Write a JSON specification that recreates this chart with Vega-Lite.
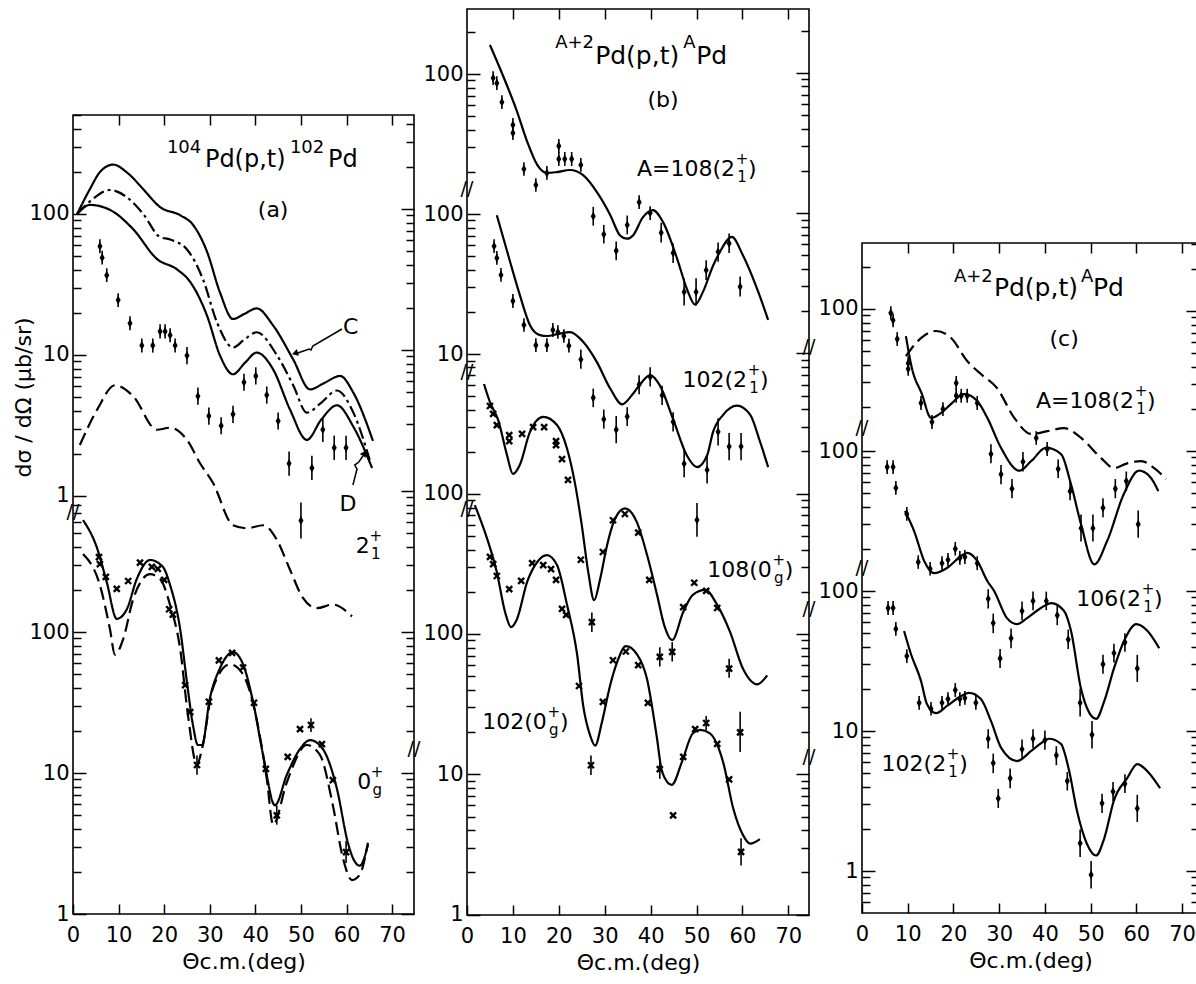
{
"$schema":"https://vega.github.io/schema/vega-lite/v6.json",
"background":"white",
"padding":{"left":11,"top":7,"right":0,"bottom":0},
"spacing":0,
"datasets":{
"a_up_lines":[
{"x":0.9,"y":100,"c":"C","s":"solid"},{"x":3.7,"y":150,"c":"C","s":"solid"},{"x":6,"y":200,"c":"C","s":"solid"},{"x":8.8,"y":224,"c":"C","s":"solid"},{"x":12,"y":195,"c":"C","s":"solid"},{"x":15.4,"y":150,"c":"C","s":"solid"},{"x":19.1,"y":112,"c":"C","s":"solid"},{"x":23.5,"y":98,"c":"C","s":"solid"},{"x":26.3,"y":84,"c":"C","s":"solid"},{"x":29.4,"y":54,"c":"C","s":"solid"},{"x":32.2,"y":28,"c":"C","s":"solid"},{"x":35.1,"y":18,"c":"C","s":"solid"},{"x":37.5,"y":19.5,"c":"C","s":"solid"},{"x":40.3,"y":21.4,"c":"C","s":"solid"},{"x":43.9,"y":16.2,"c":"C","s":"solid"},{"x":48.3,"y":9.3,"c":"C","s":"solid"},{"x":52,"y":5.7,"c":"C","s":"solid"},{"x":55,"y":6.3,"c":"C","s":"solid"},{"x":58.6,"y":7.1,"c":"C","s":"solid"},{"x":61.5,"y":5.4,"c":"C","s":"solid"},{"x":65.8,"y":2.46,"c":"C","s":"solid"},
{"x":0.9,"y":100,"c":"B","s":"dashdot"},{"x":4,"y":125,"c":"B","s":"dashdot"},{"x":8.1,"y":148,"c":"B","s":"dashdot"},{"x":12,"y":130,"c":"B","s":"dashdot"},{"x":15.4,"y":100,"c":"B","s":"dashdot"},{"x":19.1,"y":68.6,"c":"B","s":"dashdot"},{"x":21.3,"y":66,"c":"B","s":"dashdot"},{"x":25,"y":56,"c":"B","s":"dashdot"},{"x":28.5,"y":34.5,"c":"B","s":"dashdot"},{"x":31.6,"y":17,"c":"B","s":"dashdot"},{"x":35.1,"y":11.3,"c":"B","s":"dashdot"},{"x":37.5,"y":12.8,"c":"B","s":"dashdot"},{"x":40.3,"y":14.5,"c":"B","s":"dashdot"},{"x":44.7,"y":10,"c":"B","s":"dashdot"},{"x":48.3,"y":6.1,"c":"B","s":"dashdot"},{"x":51.3,"y":3.9,"c":"B","s":"dashdot"},{"x":54.5,"y":4.6,"c":"B","s":"dashdot"},{"x":57.9,"y":5.6,"c":"B","s":"dashdot"},{"x":61.5,"y":3.9,"c":"B","s":"dashdot"},{"x":65.1,"y":1.8,"c":"B","s":"dashdot"},
{"x":0.9,"y":100,"c":"D","s":"solid"},{"x":3.7,"y":116,"c":"D","s":"solid"},{"x":8.1,"y":107,"c":"D","s":"solid"},{"x":13.2,"y":78,"c":"D","s":"solid"},{"x":18.4,"y":48,"c":"D","s":"solid"},{"x":22.8,"y":40.5,"c":"D","s":"solid"},{"x":25.7,"y":33,"c":"D","s":"solid"},{"x":29.4,"y":19,"c":"D","s":"solid"},{"x":32.2,"y":10,"c":"D","s":"solid"},{"x":35.1,"y":7.3,"c":"D","s":"solid"},{"x":37.7,"y":8.8,"c":"D","s":"solid"},{"x":40.3,"y":10.4,"c":"D","s":"solid"},{"x":43.9,"y":7.9,"c":"D","s":"solid"},{"x":47.6,"y":4.1,"c":"D","s":"solid"},{"x":51.3,"y":2.5,"c":"D","s":"solid"},{"x":54.5,"y":3.5,"c":"D","s":"solid"},{"x":57.9,"y":4.4,"c":"D","s":"solid"},{"x":61.5,"y":3.1,"c":"D","s":"solid"},{"x":65.6,"y":1.58,"c":"D","s":"solid"},
{"x":1.5,"y":2.3,"c":"E","s":"dash"},{"x":5.3,"y":4.1,"c":"E","s":"dash"},{"x":9.2,"y":6.1,"c":"E","s":"dash"},{"x":13.2,"y":5.1,"c":"E","s":"dash"},{"x":18.4,"y":2.95,"c":"E","s":"dash"},{"x":21.3,"y":3.05,"c":"E","s":"dash"},{"x":25,"y":2.5,"c":"E","s":"dash"},{"x":27.9,"y":1.7,"c":"E","s":"dash"},{"x":30.7,"y":1.24,"c":"E","s":"dash"},{"x":35.1,"y":0.62,"c":"E","s":"dash"},{"x":38.2,"y":0.59,"c":"E","s":"dash"},{"x":41.7,"y":0.62,"c":"E","s":"dash"},{"x":44.7,"y":0.49,"c":"E","s":"dash"},{"x":47.6,"y":0.3,"c":"E","s":"dash"},{"x":50.4,"y":0.19,"c":"E","s":"dash"},{"x":53.5,"y":0.16,"c":"E","s":"dash"},{"x":57,"y":0.17,"c":"E","s":"dash"},{"x":61.2,"y":0.14,"c":"E","s":"dash"}
],
"a_up_pts":[
{"x":5.9,"y":59,"lo":52.7,"hi":66.1},{"x":6.4,"y":49,"lo":43.8,"hi":54.9},{"x":7.4,"y":36.8,"lo":32.9,"hi":41.2},{"x":9.9,"y":24.5,"lo":21.9,"hi":27.4},{"x":12.5,"y":16.8,"lo":15,"hi":18.8},{"x":15.1,"y":11.7,"lo":10.4,"hi":13.1},{"x":17.5,"y":11.7,"lo":10.4,"hi":13.1},{"x":19.1,"y":14.7,"lo":13.1,"hi":16.5},{"x":20.2,"y":14.7,"lo":13.1,"hi":16.5},{"x":21.3,"y":13.8,"lo":12.3,"hi":15.5},{"x":22.4,"y":11.7,"lo":10.4,"hi":13.1},{"x":25,"y":9.9,"lo":8.6,"hi":11.4},{"x":27.4,"y":5.1,"lo":4.43,"hi":5.87},{"x":29.8,"y":3.7,"lo":3.2,"hi":4.25},{"x":32.5,"y":3.15,"lo":2.74,"hi":3.62},{"x":35.1,"y":3.8,"lo":3.3,"hi":4.37},{"x":37.5,"y":6.4,"lo":5.57,"hi":7.36},{"x":40.1,"y":7.1,"lo":6.17,"hi":8.17},{"x":42.5,"y":5.2,"lo":4.52,"hi":5.98},{"x":45,"y":3.4,"lo":2.96,"hi":3.91},{"x":47.4,"y":1.7,"lo":1.39,"hi":2.07},{"x":50,"y":0.67,"lo":0.5,"hi":0.9},{"x":52.4,"y":1.58,"lo":1.3,"hi":1.93},{"x":54.8,"y":2.95,"lo":2.42,"hi":3.6},{"x":57.3,"y":2.2,"lo":1.8,"hi":2.68},{"x":59.9,"y":2.2,"lo":1.8,"hi":2.68}
],
"a_lo_lines":[
{"x":2.2,"y":622,"c":"F","s":"solid"},{"x":5.2,"y":400,"c":"F","s":"solid"},{"x":7.4,"y":226,"c":"F","s":"solid"},{"x":9.6,"y":124,"c":"F","s":"solid"},{"x":11.8,"y":145,"c":"F","s":"solid"},{"x":14,"y":238,"c":"F","s":"solid"},{"x":16.9,"y":324,"c":"F","s":"solid"},{"x":19.7,"y":290,"c":"F","s":"solid"},{"x":21.3,"y":215,"c":"F","s":"solid"},{"x":23.5,"y":105,"c":"F","s":"solid"},{"x":25,"y":44,"c":"F","s":"solid"},{"x":26.3,"y":22,"c":"F","s":"solid"},{"x":27.4,"y":15.8,"c":"F","s":"solid"},{"x":28.3,"y":15.8,"c":"F","s":"solid"},{"x":30,"y":33.5,"c":"F","s":"solid"},{"x":32.2,"y":55,"c":"F","s":"solid"},{"x":35.1,"y":72,"c":"F","s":"solid"},{"x":37.3,"y":59,"c":"F","s":"solid"},{"x":39.5,"y":32,"c":"F","s":"solid"},{"x":41.7,"y":13.4,"c":"F","s":"solid"},{"x":44.3,"y":5.9,"c":"F","s":"solid"},{"x":46.9,"y":9.7,"c":"F","s":"solid"},{"x":49.8,"y":14.8,"c":"F","s":"solid"},{"x":52,"y":17.1,"c":"F","s":"solid"},{"x":54.8,"y":14.8,"c":"F","s":"solid"},{"x":57.9,"y":7.7,"c":"F","s":"solid"},{"x":60.3,"y":3.2,"c":"F","s":"solid"},{"x":61.4,"y":2.5,"c":"F","s":"solid"},{"x":62.9,"y":2.2,"c":"F","s":"solid"},{"x":64.7,"y":3.1,"c":"F","s":"solid"},
{"x":2.2,"y":357,"c":"G","s":"dash"},{"x":5.9,"y":215,"c":"G","s":"dash"},{"x":8.1,"y":105,"c":"G","s":"dash"},{"x":9.2,"y":69,"c":"G","s":"dash"},{"x":11,"y":89,"c":"G","s":"dash"},{"x":13.2,"y":171,"c":"G","s":"dash"},{"x":16.9,"y":257,"c":"G","s":"dash"},{"x":19.1,"y":238,"c":"G","s":"dash"},{"x":21.3,"y":155,"c":"G","s":"dash"},{"x":23.5,"y":76,"c":"G","s":"dash"},{"x":25.2,"y":26,"c":"G","s":"dash"},{"x":27.2,"y":11.4,"c":"G","s":"dash"},{"x":28.3,"y":14.8,"c":"G","s":"dash"},{"x":30.7,"y":40,"c":"G","s":"dash"},{"x":34.4,"y":59,"c":"G","s":"dash"},{"x":37.3,"y":50,"c":"G","s":"dash"},{"x":40.4,"y":23,"c":"G","s":"dash"},{"x":42.5,"y":9.1,"c":"G","s":"dash"},{"x":43.9,"y":4.3,"c":"G","s":"dash"},{"x":46.9,"y":8.6,"c":"G","s":"dash"},{"x":51.3,"y":15.8,"c":"G","s":"dash"},{"x":54.2,"y":13.4,"c":"G","s":"dash"},{"x":57,"y":5.9,"c":"G","s":"dash"},{"x":59.2,"y":2.5,"c":"G","s":"dash"},{"x":61.2,"y":1.74,"c":"G","s":"dash"},{"x":62.9,"y":1.9,"c":"G","s":"dash"},{"x":64.7,"y":3.2,"c":"G","s":"dash"}
],
"a_lo_pts":[
{"x":5.7,"y":340},{"x":5.9,"y":303},{"x":7.2,"y":246},{"x":9.6,"y":202},{"x":12.1,"y":230},{"x":14.7,"y":310},{"x":17.3,"y":290},{"x":18.6,"y":280},{"x":20,"y":234},{"x":21.1,"y":145},{"x":21.9,"y":133},{"x":24.6,"y":42},{"x":25.7,"y":27},{"x":27.2,"y":11.4,"lo":9.7,"hi":13.3},{"x":29.8,"y":32},{"x":32,"y":63},{"x":34.9,"y":71},{"x":37.3,"y":56},{"x":39.7,"y":31.5},{"x":42.3,"y":10.7},{"x":44.7,"y":5,"lo":4.3,"hi":5.85},{"x":47.1,"y":13},{"x":49.8,"y":20.5},{"x":52.2,"y":21.9,"lo":19.5,"hi":24.5},{"x":54.6,"y":16},{"x":57,"y":8.9},{"x":59.9,"y":2.75,"lo":2.3,"hi":3.3}
],
"a_simple":[{"x":43.9,"y":98400,"t":"(a)"},{"x":60.9,"y":14560,"t":"C"},{"x":60.3,"y":809,"t":"D"}],
"a_title":[{"x":20.6,"y":222700,"s1":"104","m1":"Pd(p,t)","s2":"102","m2":"Pd"}],
"a_lab":[{"x":65.1,"y":407,"pre":"2","sup":"+","sub":"1","post":""},{"x":65.4,"y":8.63,"pre":"0","sup":"+","sub":"g","post":""}],
"a_breaks":[{"x":0,"y":710},{"x":74.8,"y":14.8}],
"a_arrows":[
{"x":59,"y":14090,"c":"C","i":1},{"x":52.6,"y":10670,"c":"C","i":2},{"x":52.2,"y":10000,"c":"C","i":3},{"x":51.8,"y":10160,"c":"C","i":4},{"x":49.3,"y":9520,"c":"C","i":5},
{"x":61.4,"y":1104,"c":"D","i":1},{"x":62.3,"y":1432,"c":"D","i":2},{"x":61.8,"y":1528,"c":"D","i":3},{"x":62.7,"y":1606,"c":"D","i":4},{"x":63.6,"y":1771,"c":"D","i":5}
],
"a_heads":[{"x":48.9,"y":9520,"g":"C"},{"x":63.8,"y":1829,"g":"D"}],
"b1_lines":[
{"x":5,"y":161,"c":"S1"},{"x":7.8,"y":98,"c":"S1"},{"x":10.9,"y":54,"c":"S1"},{"x":13.1,"y":33,"c":"S1"},{"x":15.3,"y":22.5,"c":"S1"},{"x":17.4,"y":19.7,"c":"S1"},{"x":19.6,"y":20,"c":"S1"},{"x":22.4,"y":20.7,"c":"S1"},{"x":25.3,"y":19,"c":"S1"},{"x":28.3,"y":14.4,"c":"S1"},{"x":31.2,"y":9.9,"c":"S1"},{"x":33.3,"y":7.1,"c":"S1"},{"x":34.9,"y":6.7,"c":"S1"},{"x":36.2,"y":7.1,"c":"S1"},{"x":38.3,"y":9.5,"c":"S1"},{"x":40.5,"y":10.7,"c":"S1"},{"x":42.7,"y":8.8,"c":"S1"},{"x":45.8,"y":4.8,"c":"S1"},{"x":47.9,"y":2.94,"c":"S1"},{"x":49.7,"y":2.27,"c":"S1"},{"x":51.4,"y":2.8,"c":"S1"},{"x":53.6,"y":4.3,"c":"S1"},{"x":55.1,"y":5.4,"c":"S1"},{"x":57.7,"y":6.9,"c":"S1"},{"x":60.1,"y":5.1,"c":"S1"},{"x":63.2,"y":2.94,"c":"S1"},{"x":65.6,"y":1.77,"c":"S1"}
],
"b1_pts":[
{"x":5.7,"y":93.6,"lo":83.6,"hi":104.8},{"x":6.5,"y":86,"lo":76.8,"hi":96.3},{"x":7.6,"y":63,"lo":56.3,"hi":70.6},{"x":10,"y":43.3,"lo":38.7,"hi":48.5},{"x":10,"y":38,"lo":33.9,"hi":42.6},{"x":12.4,"y":21,"lo":18.8,"hi":23.5},{"x":15,"y":16.2,"lo":14.5,"hi":18.1},{"x":17.4,"y":19.7,"lo":17.6,"hi":22.1},{"x":20,"y":30.7,"lo":27.4,"hi":34.4},{"x":20,"y":24.8,"lo":22.1,"hi":27.8},{"x":21.3,"y":24.8,"lo":22.1,"hi":27.8},{"x":22.8,"y":24.8,"lo":22.1,"hi":27.8},{"x":24.8,"y":22.5,"lo":20.1,"hi":25.2},{"x":27.5,"y":9.7,"lo":8.3,"hi":11.3},{"x":29.8,"y":7.2,"lo":6.2,"hi":8.4},{"x":32.5,"y":5.5,"lo":4.7,"hi":6.4},{"x":34.9,"y":8.4,"lo":7.2,"hi":9.8},{"x":37.5,"y":12.2,"lo":10.9,"hi":13.7},{"x":39.9,"y":10.2,"lo":9.1,"hi":11.4},{"x":42.3,"y":7.4,"lo":6.3,"hi":8.7},{"x":44.9,"y":5.3,"lo":4.5,"hi":6.2},{"x":47.3,"y":2.8,"lo":2.24,"hi":3.5},{"x":49.9,"y":2.8,"lo":2.24,"hi":3.5},{"x":52.1,"y":4,"lo":3.4,"hi":4.7},{"x":54.7,"y":5.4,"lo":4.6,"hi":6.3},{"x":57.1,"y":6.2,"lo":5.3,"hi":7.3},{"x":59.5,"y":3.05,"lo":2.6,"hi":3.6}
],
"b2_lines":[
{"x":6.5,"y":98,"c":"S2"},{"x":9.4,"y":45.5,"c":"S2"},{"x":11.5,"y":26.5,"c":"S2"},{"x":13.7,"y":16.2,"c":"S2"},{"x":15.9,"y":13.7,"c":"S2"},{"x":17.4,"y":13.5,"c":"S2"},{"x":20,"y":14,"c":"S2"},{"x":22.4,"y":14.4,"c":"S2"},{"x":25.3,"y":12.3,"c":"S2"},{"x":28.3,"y":8.8,"c":"S2"},{"x":31.2,"y":5.7,"c":"S2"},{"x":33.8,"y":4.4,"c":"S2"},{"x":35.9,"y":5.1,"c":"S2"},{"x":37.7,"y":6.1,"c":"S2"},{"x":39.9,"y":7.1,"c":"S2"},{"x":42,"y":6,"c":"S2"},{"x":44.9,"y":3.45,"c":"S2"},{"x":47.9,"y":1.9,"c":"S2"},{"x":50.1,"y":1.57,"c":"S2"},{"x":52.3,"y":1.9,"c":"S2"},{"x":53.6,"y":2.8,"c":"S2"},{"x":55.8,"y":3.7,"c":"S2"},{"x":58.8,"y":4.3,"c":"S2"},{"x":61.7,"y":3.7,"c":"S2"},{"x":63.8,"y":2.4,"c":"S2"},{"x":65.6,"y":1.57,"c":"S2"}
],
"b2_pts":[
{"x":5.9,"y":59,"lo":52.7,"hi":66.1},{"x":6.5,"y":48.6,"lo":43.4,"hi":54.4},{"x":7.4,"y":36.8,"lo":32.9,"hi":41.2},{"x":10,"y":24,"lo":21.4,"hi":26.9},{"x":12.4,"y":16.2,"lo":14.5,"hi":18.1},{"x":15,"y":11.6,"lo":10.4,"hi":13},{"x":17.4,"y":11.6,"lo":10.4,"hi":13},{"x":18.7,"y":14.9,"lo":13.3,"hi":16.7},{"x":19.8,"y":14.4,"lo":12.9,"hi":16.1},{"x":21.1,"y":13.5,"lo":12.1,"hi":15.1},{"x":22.2,"y":11.5,"lo":10.3,"hi":12.9},{"x":24.8,"y":9.2,"lo":7.9,"hi":10.8},{"x":27.5,"y":4.9,"lo":4.2,"hi":5.7},{"x":29.8,"y":3.45,"lo":2.95,"hi":4.04},{"x":32.5,"y":2.9,"lo":2.32,"hi":3.63},{"x":34.9,"y":3.6,"lo":3.08,"hi":4.2},{"x":37.5,"y":6.1,"lo":5.2,"hi":7.1},{"x":39.9,"y":6.9,"lo":5.9,"hi":8.1},{"x":42.5,"y":5.1,"lo":4.36,"hi":5.97},{"x":44.9,"y":3.3,"lo":2.82,"hi":3.86},{"x":47.3,"y":1.66,"lo":1.33,"hi":2.08},{"x":50.1,"y":0.66,"lo":0.5,"hi":0.87},{"x":52.3,"y":1.5,"lo":1.2,"hi":1.88},{"x":54.7,"y":2.8,"lo":2.24,"hi":3.5},{"x":57.1,"y":2.2,"lo":1.76,"hi":2.75},{"x":59.7,"y":2.2,"lo":1.76,"hi":2.75}
],
"b3_lines":[
{"x":3.7,"y":608,"c":"S3"},{"x":5,"y":452,"c":"S3"},{"x":6.8,"y":336,"c":"S3"},{"x":8.7,"y":190,"c":"S3"},{"x":10,"y":139,"c":"S3"},{"x":11.5,"y":161,"c":"S3"},{"x":13.7,"y":276,"c":"S3"},{"x":16.6,"y":354,"c":"S3"},{"x":19.6,"y":310,"c":"S3"},{"x":21.8,"y":210,"c":"S3"},{"x":23.5,"y":120,"c":"S3"},{"x":25,"y":60,"c":"S3"},{"x":26.4,"y":28,"c":"S3"},{"x":27.7,"y":17.5,"c":"S3"},{"x":29,"y":24.8,"c":"S3"},{"x":30.5,"y":43,"c":"S3"},{"x":32.2,"y":66,"c":"S3"},{"x":34.4,"y":79,"c":"S3"},{"x":37,"y":63,"c":"S3"},{"x":39.2,"y":37,"c":"S3"},{"x":41.4,"y":19.1,"c":"S3"},{"x":43,"y":11.5,"c":"S3"},{"x":44.7,"y":9.1,"c":"S3"},{"x":47.1,"y":14.4,"c":"S3"},{"x":49.2,"y":19.1,"c":"S3"},{"x":51.9,"y":20.7,"c":"S3"},{"x":54.5,"y":16.2,"c":"S3"},{"x":57.3,"y":10.4,"c":"S3"},{"x":60.1,"y":5.7,"c":"S3"},{"x":63.2,"y":4.4,"c":"S3"},{"x":65.4,"y":5.1,"c":"S3"}
],
"b3_pts":[
{"x":5,"y":424},{"x":5.7,"y":372},{"x":6.5,"y":310},{"x":9.2,"y":263},{"x":9.2,"y":238},{"x":12,"y":268},{"x":14.4,"y":300},{"x":16.8,"y":300},{"x":19.4,"y":238},{"x":19.4,"y":223},{"x":20.7,"y":177},{"x":22,"y":126},{"x":24.8,"y":34},{"x":27.2,"y":12.2,"lo":10.4,"hi":14.3},{"x":29.6,"y":38.6},{"x":31.8,"y":65},{"x":34.4,"y":72},{"x":37.3,"y":53},{"x":39.7,"y":24.4},{"x":42,"y":6.9,"lo":5.9,"hi":8.1},{"x":44.7,"y":7.5,"lo":6.4,"hi":8.8},{"x":47.1,"y":15.6},{"x":49.5,"y":23.3},{"x":52.1,"y":20.4},{"x":54.5,"y":15.4},{"x":57.1,"y":5.7,"lo":4.9,"hi":6.7},{"x":59.5,"y":2,"lo":1.45,"hi":2.8}
],
"b4_lines":[
{"x":1.7,"y":830,"c":"S4"},{"x":4.4,"y":476,"c":"S4"},{"x":6.5,"y":276,"c":"S4"},{"x":8.3,"y":143,"c":"S4"},{"x":9.6,"y":112,"c":"S4"},{"x":10.9,"y":128,"c":"S4"},{"x":13.1,"y":235,"c":"S4"},{"x":15.3,"y":326,"c":"S4"},{"x":17.4,"y":365,"c":"S4"},{"x":19.6,"y":310,"c":"S4"},{"x":21.8,"y":161,"c":"S4"},{"x":24,"y":71,"c":"S4"},{"x":25.3,"y":31,"c":"S4"},{"x":26.8,"y":19,"c":"S4"},{"x":27.9,"y":16,"c":"S4"},{"x":29.4,"y":23.6,"c":"S4"},{"x":31.2,"y":43.3,"c":"S4"},{"x":32.7,"y":63,"c":"S4"},{"x":34.6,"y":82,"c":"S4"},{"x":37,"y":72,"c":"S4"},{"x":39.2,"y":48,"c":"S4"},{"x":41.3,"y":18.9,"c":"S4"},{"x":42.5,"y":10.4,"c":"S4"},{"x":44.6,"y":8.4,"c":"S4"},{"x":46.8,"y":12.2,"c":"S4"},{"x":49.2,"y":19.6,"c":"S4"},{"x":50.8,"y":20.7,"c":"S4"},{"x":52.9,"y":19.6,"c":"S4"},{"x":55.8,"y":12.2,"c":"S4"},{"x":58,"y":5.7,"c":"S4"},{"x":60.1,"y":3.7,"c":"S4"},{"x":61.7,"y":3.2,"c":"S4"},{"x":63.8,"y":3.45,"c":"S4"}
],
"b4_pts":[
{"x":5,"y":354},{"x":5.7,"y":315},{"x":6.5,"y":259},{"x":9.2,"y":209},{"x":11.8,"y":239},{"x":14.2,"y":320},{"x":16.6,"y":310},{"x":18.3,"y":290},{"x":19.4,"y":243},{"x":20.7,"y":151},{"x":21.6,"y":137},{"x":24.4,"y":42.6},{"x":27,"y":11.6,"lo":9.9,"hi":13.6},{"x":29.6,"y":32.8},{"x":31.8,"y":65},{"x":34.6,"y":75},{"x":37.3,"y":60},{"x":39.4,"y":32.3},{"x":42,"y":10.9,"lo":9.3,"hi":12.8},{"x":44.9,"y":5.1},{"x":47.1,"y":13.3},{"x":49.7,"y":21},{"x":52.1,"y":23.2,"lo":20.7,"hi":26},{"x":54.5,"y":16.5},{"x":57.1,"y":9.2},{"x":59.7,"y":2.8,"lo":2.24,"hi":3.5}
],
"b_simple":[{"x":42.7,"y":640000,"t":"(b)"}],
"b_title":[{"x":19.2,"y":1318000,"s1":"A+2","m1":"Pd(p,t)","s2":"A","m2":"Pd"}],
"b_lab":[
{"x":58.4,"y":206100,"pre":"A=108(2","sup":"+","sub":"1","post":")"},
{"x":61,"y":6460,"pre":"102(2","sup":"+","sub":"1","post":")"},
{"x":66.4,"y":286,"pre":"108(0","sup":"+","sub":"g","post":")"},
{"x":17.4,"y":23.6,"pre":"102(0","sup":"+","sub":"g","post":")"}
],
"b_breaks":[{"x":0,"y":148600},{"x":0,"y":7370},{"x":0,"y":778},{"x":74.5,"y":11100},{"x":74.5,"y":150.7},{"x":74.5,"y":13.3}],
"c1_lines":[
{"x":9.6,"y":46,"c":"H","s":"dash"},{"x":12.9,"y":62,"c":"H","s":"dash"},{"x":16.2,"y":69.6,"c":"H","s":"dash"},{"x":19.5,"y":62,"c":"H","s":"dash"},{"x":23,"y":42.5,"c":"H","s":"dash"},{"x":26,"y":34.3,"c":"H","s":"dash"},{"x":29.5,"y":27.3,"c":"H","s":"dash"},{"x":33.3,"y":16.7,"c":"H","s":"dash"},{"x":37,"y":12.8,"c":"H","s":"dash"},{"x":40.5,"y":13.4,"c":"H","s":"dash"},{"x":44.2,"y":14.1,"c":"H","s":"dash"},{"x":47.9,"y":12,"c":"H","s":"dash"},{"x":52.3,"y":8.6,"c":"H","s":"dash"},{"x":55.1,"y":7.3,"c":"H","s":"dash"},{"x":58,"y":7.9,"c":"H","s":"dash"},{"x":61.1,"y":8.2,"c":"H","s":"dash"},{"x":63.9,"y":7.3,"c":"H","s":"dash"},{"x":66.5,"y":6.1,"c":"H","s":"dash"},
{"x":9.6,"y":64,"c":"I","s":"solid"},{"x":10.9,"y":38,"c":"I","s":"solid"},{"x":13.1,"y":24.7,"c":"I","s":"solid"},{"x":15.1,"y":16.7,"c":"I","s":"solid"},{"x":17.3,"y":18.1,"c":"I","s":"solid"},{"x":19.5,"y":21,"c":"I","s":"solid"},{"x":22.3,"y":24.7,"c":"I","s":"solid"},{"x":25.2,"y":22,"c":"I","s":"solid"},{"x":27.4,"y":16.7,"c":"I","s":"solid"},{"x":30.4,"y":10.2,"c":"I","s":"solid"},{"x":34.4,"y":7,"c":"I","s":"solid"},{"x":37,"y":8.2,"c":"I","s":"solid"},{"x":40.3,"y":10.2,"c":"I","s":"solid"},{"x":43.5,"y":9.2,"c":"I","s":"solid"},{"x":45.7,"y":5.6,"c":"I","s":"solid"},{"x":47.9,"y":2.9,"c":"I","s":"solid"},{"x":50.8,"y":1.5,"c":"I","s":"solid"},{"x":53.6,"y":2.2,"c":"I","s":"solid"},{"x":57.3,"y":4.8,"c":"I","s":"solid"},{"x":60.6,"y":7,"c":"I","s":"solid"},{"x":63.2,"y":6.2,"c":"I","s":"solid"},{"x":64.8,"y":5,"c":"I","s":"solid"}
],
"c1_pts":[
{"x":6.3,"y":93.6,"lo":83.6,"hi":104.8},{"x":6.8,"y":83,"lo":74.1,"hi":93},{"x":7.7,"y":61,"lo":54.5,"hi":68.3},{"x":10.1,"y":41,"lo":36.6,"hi":45.9},{"x":10.1,"y":37.3,"lo":33.3,"hi":41.8},{"x":12.9,"y":21.3,"lo":19,"hi":23.9},{"x":15.3,"y":15.6,"lo":13.9,"hi":17.5},{"x":17.7,"y":19.3,"lo":17.2,"hi":21.6},{"x":20.6,"y":29.6,"lo":26.4,"hi":33.2},{"x":20.6,"y":24,"lo":21.4,"hi":26.9},{"x":21.7,"y":24,"lo":21.4,"hi":26.9},{"x":23,"y":24,"lo":21.4,"hi":26.9},{"x":25.2,"y":21.3,"lo":19,"hi":23.9},{"x":28.2,"y":9.2,"lo":7.9,"hi":10.8},{"x":30.4,"y":6.6,"lo":5.6,"hi":7.7},{"x":32.8,"y":5.2,"lo":4.45,"hi":6.1},{"x":35.2,"y":8.1,"lo":6.9,"hi":9.5},{"x":38.1,"y":12,"lo":10.7,"hi":13.4},{"x":40.5,"y":10,"lo":8.9,"hi":11.2},{"x":42.9,"y":7.2,"lo":6.2,"hi":8.4},{"x":45.5,"y":5,"lo":4.3,"hi":5.85},{"x":47.9,"y":2.72,"lo":2.18,"hi":3.4},{"x":50.5,"y":2.72,"lo":2.18,"hi":3.4},{"x":52.7,"y":3.8,"lo":3.25,"hi":4.45},{"x":55.4,"y":5.2,"lo":4.45,"hi":6.1},{"x":57.8,"y":5.9,"lo":5,"hi":6.9},{"x":60.4,"y":2.9,"lo":2.32,"hi":3.63}
],
"c2_lines":[
{"x":9.4,"y":37.3,"c":"J"},{"x":11.4,"y":26.8,"c":"J"},{"x":13.6,"y":16.4,"c":"J"},{"x":15.8,"y":13.4,"c":"J"},{"x":18.6,"y":14.6,"c":"J"},{"x":21.7,"y":17.8,"c":"J"},{"x":23,"y":18.7,"c":"J"},{"x":25.2,"y":16.4,"c":"J"},{"x":27.4,"y":11.8,"c":"J"},{"x":28.9,"y":10,"c":"J"},{"x":31.7,"y":6.4,"c":"J"},{"x":33.9,"y":5.8,"c":"J"},{"x":36.1,"y":6.4,"c":"J"},{"x":39.2,"y":7.6,"c":"J"},{"x":41.4,"y":8.2,"c":"J"},{"x":44.2,"y":7.2,"c":"J"},{"x":45.7,"y":5.2,"c":"J"},{"x":47.9,"y":2,"c":"J"},{"x":49.2,"y":1.46,"c":"J"},{"x":51.2,"y":1.22,"c":"J"},{"x":53,"y":1.64,"c":"J"},{"x":55.1,"y":2.8,"c":"J"},{"x":57.3,"y":4.4,"c":"J"},{"x":60,"y":5.8,"c":"J"},{"x":62.4,"y":5.2,"c":"J"},{"x":65,"y":3.9,"c":"J"}
],
"c2_pts":[
{"x":5.5,"y":76.8,"lo":68.6,"hi":86},{"x":6.8,"y":76.8,"lo":68.6,"hi":86},{"x":7.4,"y":54.5,"lo":48.7,"hi":61},{"x":9.8,"y":35.5,"lo":31.7,"hi":39.8},{"x":12.3,"y":16.1,"lo":14.4,"hi":18},{"x":14.9,"y":14.4,"lo":12.9,"hi":16.1},{"x":17.5,"y":15.8,"lo":14.1,"hi":17.7},{"x":18.8,"y":16.7,"lo":14.9,"hi":18.7},{"x":20.4,"y":20,"lo":17.9,"hi":22.4},{"x":21.4,"y":17.2,"lo":15.4,"hi":19.3},{"x":22.5,"y":17.5,"lo":15.6,"hi":19.6},{"x":25.2,"y":15.8,"lo":14.1,"hi":17.7},{"x":27.6,"y":8.8,"lo":7.5,"hi":10.3},{"x":28.7,"y":5.9,"lo":5,"hi":6.9},{"x":30.2,"y":3.3,"lo":2.82,"hi":3.86},{"x":32.6,"y":4.6,"lo":3.9,"hi":5.4},{"x":35,"y":7.2,"lo":6.2,"hi":8.4},{"x":37.4,"y":8.5,"lo":7.3,"hi":9.9},{"x":40.3,"y":8.5,"lo":7.3,"hi":9.9},{"x":42.7,"y":6.7,"lo":5.7,"hi":7.8},{"x":45.1,"y":4.5,"lo":3.85,"hi":5.3},{"x":47.7,"y":1.59,"lo":1.27,"hi":2},{"x":50.3,"y":0.94,"lo":0.75,"hi":1.18},{"x":52.7,"y":3,"lo":2.56,"hi":3.5},{"x":55.1,"y":3.6,"lo":3.08,"hi":4.2},{"x":57.5,"y":4.3,"lo":3.68,"hi":5},{"x":60.2,"y":2.8,"lo":2.24,"hi":3.5}
],
"c3_lines":[
{"x":9.2,"y":51.8,"c":"K"},{"x":10.7,"y":35.5,"c":"K"},{"x":12.9,"y":22.8,"c":"K"},{"x":14.2,"y":15.6,"c":"K"},{"x":16.2,"y":13.4,"c":"K"},{"x":18.6,"y":15.1,"c":"K"},{"x":21.7,"y":17.8,"c":"K"},{"x":23.4,"y":18.7,"c":"K"},{"x":26,"y":16.9,"c":"K"},{"x":28.2,"y":11.8,"c":"K"},{"x":30.4,"y":7.6,"c":"K"},{"x":33.9,"y":6.1,"c":"K"},{"x":37,"y":7.2,"c":"K"},{"x":39.2,"y":8.2,"c":"K"},{"x":40.9,"y":8.8,"c":"K"},{"x":43.5,"y":8.1,"c":"K"},{"x":45.3,"y":5.2,"c":"K"},{"x":47,"y":2.7,"c":"K"},{"x":49.2,"y":1.56,"c":"K"},{"x":51.2,"y":1.29,"c":"K"},{"x":53,"y":1.72,"c":"K"},{"x":55.1,"y":3.2,"c":"K"},{"x":58,"y":4.6,"c":"K"},{"x":60.2,"y":5.8,"c":"K"},{"x":62.8,"y":5,"c":"K"},{"x":65.2,"y":3.9,"c":"K"}
],
"c3_pts":[
{"x":5.7,"y":75.6,"lo":67.5,"hi":84.7},{"x":6.8,"y":75.6,"lo":67.5,"hi":84.7},{"x":7.4,"y":53.6,"lo":47.9,"hi":60},{"x":9.8,"y":34.3,"lo":30.6,"hi":38.4},{"x":12.5,"y":15.9,"lo":14.2,"hi":17.8},{"x":15.1,"y":14.4,"lo":12.9,"hi":16.1},{"x":17.5,"y":15.9,"lo":14.2,"hi":17.8},{"x":18.8,"y":16.9,"lo":15.1,"hi":18.9},{"x":20.4,"y":19.6,"lo":17.5,"hi":22},{"x":21.4,"y":16.9,"lo":15.1,"hi":18.9},{"x":22.5,"y":17.2,"lo":15.4,"hi":19.3},{"x":24.9,"y":15.9,"lo":14.2,"hi":17.8},{"x":27.6,"y":8.8,"lo":7.5,"hi":10.3},{"x":28.7,"y":5.9,"lo":5,"hi":6.9},{"x":29.8,"y":3.3,"lo":2.82,"hi":3.86},{"x":32.4,"y":4.6,"lo":3.9,"hi":5.4},{"x":35,"y":7.4,"lo":6.3,"hi":8.7},{"x":37.4,"y":8.8,"lo":7.5,"hi":10.3},{"x":40,"y":8.6,"lo":7.35,"hi":10.1},{"x":42.5,"y":6.7,"lo":5.7,"hi":7.8},{"x":44.9,"y":4.4,"lo":3.76,"hi":5.1},{"x":47.7,"y":1.58,"lo":1.26,"hi":1.98},{"x":50.1,"y":0.94,"lo":0.75,"hi":1.18},{"x":52.5,"y":3.05,"lo":2.6,"hi":3.57},{"x":54.9,"y":3.7,"lo":3.16,"hi":4.33},{"x":57.5,"y":4.2,"lo":3.6,"hi":4.9},{"x":60.2,"y":2.8,"lo":2.24,"hi":3.5}
],
"c_simple":[{"x":44.2,"y":6310,"t":"(c)"}],
"c_title":[{"x":20.1,"y":14590,"s1":"A+2","m1":"Pd(p,t)","s2":"A","m2":"Pd"}],
"c_lab":[
{"x":59.5,"y":2275,"pre":"A=108(2","sup":"+","sub":"1","post":")"},
{"x":61,"y":87.7,"pre":"106(2","sup":"+","sub":"1","post":")"},
{"x":18.4,"y":5.82,"pre":"102(2","sup":"+","sub":"1","post":")"}
],
"c_breaks":[{"x":0,"y":1459},{"x":0,"y":146}]
},
"hconcat":[
{"spacing":0,"vconcat":[
{"width":341,"height":94,"view":{"stroke":null},"data":{"values":[{"k":1}]},"mark":{"type":"text"},"encoding":{"text":{"value":""}}},
{
"width":341,"height":799,
"resolve":{"scale":{"y":"independent"},"axis":{"x":"independent"}},
"layer":[
{"encoding":{
"x":{"field":"x","type":"quantitative","scale":{"domain":[0,74.8]},"axis":{"orient":"bottom","values":[0,10,20,30,40,50,60,70],"format":"d","tickSize":-10,"labelPadding":20,"title":"Θc.m.(deg)","titlePadding":6}},
"y":{"field":"y","type":"quantitative","scale":{"type":"log","domain":[0.001085,503.6]},"axis":{"orient":"left","values":[1,2,3,4,5,6,7,8,9,10,20,30,40,50,60,70,80,90,100,200,300,400,500],"labelExpr":"datum.value==1?'1':datum.value==10?'10':datum.value==100?'100':''","tickSize":{"condition":{"test":"indexof([0.1,1,10,100,1000,10000,100000,1000000],datum.value)>=0","value":-13},"value":-8},"labelPadding":17,"title":"dσ / dΩ   (μb/sr)","titleX":-50,"titleY":282,"titleBaseline":"middle","titleFontSize":22}}},
"layer":[
{"data":{"name":"a_up_lines"},"mark":{"type":"line","interpolate":"monotone","color":"black","strokeWidth":2.2},"encoding":{"detail":{"field":"c"},"strokeDash":{"field":"s","type":"nominal","scale":{"domain":["solid","dash","dashdot"],"range":[[1,0],[13,6],[12,4,3,4]]},"legend":null}}},
{"data":{"name":"a_up_pts"},"mark":{"type":"rule","color":"black","strokeWidth":1.6},"encoding":{"y":{"field":"lo","type":"quantitative","scale":{"type":"log","domain":[0.001085,503.6]},"title":null},"y2":{"field":"hi"}}},
{"data":{"name":"a_up_pts"},"mark":{"type":"point","shape":"M0,-1.4L0.8,0L0,1.4L-0.8,0Z","filled":true,"size":40,"color":"black","opacity":1}}
]},
{"encoding":{
"x":{"field":"x","type":"quantitative","scale":{"domain":[0,74.8]},"axis":null},
"y":{"field":"y","type":"quantitative","scale":{"type":"log","domain":[1,464160]},"axis":{"orient":"left","values":[1,2,3,4,5,6,7,8,9,10,20,30,40,50,60,70,80,90,100,200,300,400,500,600,700,800],"labelExpr":"datum.value==1?'1':datum.value==10?'10':datum.value==100?'100':''","tickSize":{"condition":{"test":"indexof([0.1,1,10,100,1000,10000,100000,1000000],datum.value)>=0","value":-13},"value":-8},"labelPadding":17,"title":null}}},
"layer":[
{"data":{"name":"a_lo_lines"},"mark":{"type":"line","interpolate":"monotone","color":"black","strokeWidth":2.2},"encoding":{"detail":{"field":"c"},"strokeDash":{"field":"s","type":"nominal","scale":{"domain":["solid","dash","dashdot"],"range":[[1,0],[13,6],[12,4,3,4]]},"legend":null}}},
{"data":{"name":"a_lo_pts"},"mark":{"type":"rule","color":"black","strokeWidth":1.6},"encoding":{"y":{"field":"lo","type":"quantitative","scale":{"type":"log","domain":[1,464160]},"title":null},"y2":{"field":"hi"}}},
{"data":{"name":"a_lo_pts"},"mark":{"type":"point","shape":"M-1,-1L1,1M-1,1L1,-1","filled":false,"size":36,"color":"black","strokeWidth":2.4,"opacity":1}}
]},
{"encoding":{
"x":{"field":"x","type":"quantitative","scale":{"domain":[0,74.8]},"axis":{"orient":"top","values":[10,20,30,40,50,60,70],"labels":false,"tickSize":-10,"title":null}},
"y":{"field":"y","type":"quantitative","scale":{"type":"log","domain":[1,464160]},"axis":{"orient":"right","values":[1,2,3,4,5,6,7,8,9,10,20,30,40,50,60,70,80,90,100,200,300,400,500,600,700,800,900,1000,2000,3000,4000,5000,6000,7000,8000,9000,10000,20000,30000,40000,50000,60000,70000,80000,90000,100000,200000,300000,400000],"labels":false,"tickSize":{"condition":{"test":"indexof([0.1,1,10,100,1000,10000,100000,1000000],datum.value)>=0","value":-13},"value":-8},"title":null}}},
"layer":[
{"data":{"name":"a_breaks"},"mark":{"type":"text","text":"//","fontSize":19}},
{"data":{"name":"a_simple"},"mark":{"type":"text","fontSize":22},"encoding":{"text":{"field":"t"}}},
{"data":{"name":"a_title"},"mark":{"type":"text","fontSize":18,"align":"left","dy":-12},"encoding":{"text":{"field":"s1"}}},
{"data":{"name":"a_title"},"mark":{"type":"text","fontSize":24,"align":"left","dx":38},"encoding":{"text":{"field":"m1"}}},
{"data":{"name":"a_title"},"mark":{"type":"text","fontSize":18,"align":"left","dx":123,"dy":-12},"encoding":{"text":{"field":"s2"}}},
{"data":{"name":"a_title"},"mark":{"type":"text","fontSize":24,"align":"left","dx":161},"encoding":{"text":{"field":"m2"}}},
{"data":{"name":"a_lab"},"mark":{"type":"text","fontSize":22,"align":"right"},"encoding":{"text":{"field":"pre"}}},
{"data":{"name":"a_lab"},"mark":{"type":"text","fontSize":15,"align":"center","dx":6,"dy":-10},"encoding":{"text":{"field":"sup"}}},
{"data":{"name":"a_lab"},"mark":{"type":"text","fontSize":15,"align":"center","dx":6,"dy":8},"encoding":{"text":{"field":"sub"}}},
{"data":{"name":"a_arrows"},"mark":{"type":"line","color":"black","strokeWidth":1.5},"encoding":{"detail":{"field":"c"},"order":{"field":"i"}}},
{"data":{"name":"a_heads"},"transform":[{"filter":"datum.g=='C'"}],"mark":{"type":"point","shape":"triangle","filled":true,"size":50,"angle":253,"color":"black","opacity":1}},
{"data":{"name":"a_heads"},"transform":[{"filter":"datum.g=='D'"}],"mark":{"type":"point","shape":"triangle","filled":true,"size":50,"angle":32,"color":"black","opacity":1}}
]}
]
}
]},
{
"width":342,"height":906,
"resolve":{"scale":{"y":"independent"},"axis":{"x":"independent"}},
"layer":[
{"encoding":{
"x":{"field":"x","type":"quantitative","scale":{"domain":[0,74.5]},"axis":{"orient":"bottom","values":[0,10,20,30,40,50,60,70],"format":"d","tickSize":-10,"labelPadding":20,"title":"Θc.m.(deg)","titlePadding":6}},
"y":{"field":"y","type":"quantitative","scale":{"type":"log","domain":[0.0001014,290.6]},"axis":{"orient":"left","values":[20,30,40,50,60,70,80,90,100,200],"labelExpr":"datum.value==1?'1':datum.value==10?'10':datum.value==100?'100':''","tickSize":{"condition":{"test":"indexof([0.1,1,10,100,1000,10000,100000,1000000],datum.value)>=0","value":-13},"value":-8},"labelPadding":17,"title":null}}},
"layer":[
{"data":{"name":"b1_lines"},"mark":{"type":"line","interpolate":"monotone","color":"black","strokeWidth":2.2},"encoding":{"detail":{"field":"c"}}},
{"data":{"name":"b1_pts"},"mark":{"type":"rule","color":"black","strokeWidth":1.6},"encoding":{"y":{"field":"lo","type":"quantitative","scale":{"type":"log","domain":[0.0001014,290.6]},"title":null},"y2":{"field":"hi"}}},
{"data":{"name":"b1_pts"},"mark":{"type":"point","shape":"M0,-1.4L0.8,0L0,1.4L-0.8,0Z","filled":true,"size":40,"color":"black","opacity":1}}
]},
{"encoding":{
"x":{"field":"x","type":"quantitative","scale":{"domain":[0,74.5]},"axis":null},
"y":{"field":"y","type":"quantitative","scale":{"type":"log","domain":[0.001008,2892]},"axis":{"orient":"left","values":[9,10,20,30,40,50,60,70,80,90,100],"labelExpr":"datum.value==1?'1':datum.value==10?'10':datum.value==100?'100':''","tickSize":{"condition":{"test":"indexof([0.1,1,10,100,1000,10000,100000,1000000],datum.value)>=0","value":-13},"value":-8},"labelPadding":17,"title":null}}},
"layer":[
{"data":{"name":"b2_lines"},"mark":{"type":"line","interpolate":"monotone","color":"black","strokeWidth":2.2},"encoding":{"detail":{"field":"c"}}},
{"data":{"name":"b2_pts"},"mark":{"type":"rule","color":"black","strokeWidth":1.6},"encoding":{"y":{"field":"lo","type":"quantitative","scale":{"type":"log","domain":[0.001008,2892]},"title":null},"y2":{"field":"hi"}}},
{"data":{"name":"b2_pts"},"mark":{"type":"point","shape":"M0,-1.4L0.8,0L0,1.4L-0.8,0Z","filled":true,"size":40,"color":"black","opacity":1}}
]},
{"encoding":{
"x":{"field":"x","type":"quantitative","scale":{"domain":[0,74.5]},"axis":null},
"y":{"field":"y","type":"quantitative","scale":{"type":"log","domain":[0.09984,286300]},"axis":{"orient":"left","values":[80,90,100,200,300,400,500,600,700,800],"labelExpr":"datum.value==1?'1':datum.value==10?'10':datum.value==100?'100':''","tickSize":{"condition":{"test":"indexof([0.1,1,10,100,1000,10000,100000,1000000],datum.value)>=0","value":-13},"value":-8},"labelPadding":17,"title":null}}},
"layer":[
{"data":{"name":"b3_lines"},"mark":{"type":"line","interpolate":"monotone","color":"black","strokeWidth":2.2},"encoding":{"detail":{"field":"c"}}},
{"data":{"name":"b3_pts"},"mark":{"type":"rule","color":"black","strokeWidth":1.6},"encoding":{"y":{"field":"lo","type":"quantitative","scale":{"type":"log","domain":[0.09984,286300]},"title":null},"y2":{"field":"hi"}}},
{"data":{"name":"b3_pts"},"mark":{"type":"point","shape":"M-1,-1L1,1M-1,1L1,-1","filled":false,"size":36,"color":"black","strokeWidth":2.4,"opacity":1}}
]},
{"encoding":{
"x":{"field":"x","type":"quantitative","scale":{"domain":[0,74.5]},"axis":null},
"y":{"field":"y","type":"quantitative","scale":{"type":"log","domain":[0.9934,2849000]},"axis":{"orient":"left","values":[1,2,3,4,5,6,7,8,9,10,20,30,40,50,60,70,80,90,100,200,300,400,500,600,700],"labelExpr":"datum.value==1?'1':datum.value==10?'10':datum.value==100?'100':''","tickSize":{"condition":{"test":"indexof([0.1,1,10,100,1000,10000,100000,1000000],datum.value)>=0","value":-13},"value":-8},"labelPadding":17,"title":null}}},
"layer":[
{"data":{"name":"b4_lines"},"mark":{"type":"line","interpolate":"monotone","color":"black","strokeWidth":2.2},"encoding":{"detail":{"field":"c"}}},
{"data":{"name":"b4_pts"},"mark":{"type":"rule","color":"black","strokeWidth":1.6},"encoding":{"y":{"field":"lo","type":"quantitative","scale":{"type":"log","domain":[0.9934,2849000]},"title":null},"y2":{"field":"hi"}}},
{"data":{"name":"b4_pts"},"mark":{"type":"point","shape":"M-1,-1L1,1M-1,1L1,-1","filled":false,"size":36,"color":"black","strokeWidth":2.4,"opacity":1}}
]},
{"encoding":{
"x":{"field":"x","type":"quantitative","scale":{"domain":[0,74.5]},"axis":{"orient":"top","values":[10,20,30,40,50,60,70],"labels":false,"tickSize":-10,"title":null}},
"y":{"field":"y","type":"quantitative","scale":{"type":"log","domain":[0.9934,2849000]},"axis":{"orient":"right","values":[1,2,3,4,5,6,7,8,9,10,20,30,40,50,60,70,80,90,100,200,300,400,500,600,700,800,900,1000,2000,3000,4000,5000,6000,7000,8000,9000,10000,20000,30000,40000,50000,60000,70000,80000,90000,100000,200000,300000,400000,500000,600000,700000,800000,900000,1000000,2000000],"labels":false,"tickSize":{"condition":{"test":"indexof([0.1,1,10,100,1000,10000,100000,1000000],datum.value)>=0","value":-13},"value":-8},"title":null}}},
"layer":[
{"data":{"name":"b_breaks"},"mark":{"type":"text","text":"//","fontSize":19}},
{"data":{"name":"b_simple"},"mark":{"type":"text","fontSize":22},"encoding":{"text":{"field":"t"}}},
{"data":{"name":"b_title"},"mark":{"type":"text","fontSize":18,"align":"left","dy":-13},"encoding":{"text":{"field":"s1"}}},
{"data":{"name":"b_title"},"mark":{"type":"text","fontSize":25,"align":"left","dx":40},"encoding":{"text":{"field":"m1"}}},
{"data":{"name":"b_title"},"mark":{"type":"text","fontSize":18,"align":"left","dx":128,"dy":-13},"encoding":{"text":{"field":"s2"}}},
{"data":{"name":"b_title"},"mark":{"type":"text","fontSize":25,"align":"left","dx":141},"encoding":{"text":{"field":"m2"}}},
{"data":{"name":"b_lab"},"mark":{"type":"text","fontSize":22,"align":"right"},"encoding":{"text":{"field":"pre"}}},
{"data":{"name":"b_lab"},"mark":{"type":"text","fontSize":15,"align":"center","dx":7,"dy":-10},"encoding":{"text":{"field":"sup"}}},
{"data":{"name":"b_lab"},"mark":{"type":"text","fontSize":15,"align":"center","dx":7,"dy":8},"encoding":{"text":{"field":"sub"}}},
{"data":{"name":"b_lab"},"mark":{"type":"text","fontSize":22,"align":"left","dx":13},"encoding":{"text":{"field":"post"}}}
]}
]
},
{"spacing":0,"vconcat":[
{"width":337,"height":232,"view":{"stroke":null},"data":{"values":[{"k":1}]},"mark":{"type":"text"},"encoding":{"text":{"value":""}}},
{
"width":337,"height":670,
"resolve":{"scale":{"y":"independent"},"axis":{"x":"independent"}},
"layer":[
{"encoding":{
"x":{"field":"x","type":"quantitative","scale":{"domain":[0,73.7]},"axis":{"orient":"bottom","values":[0,10,20,30,40,50,60,70],"format":"d","tickSize":-10,"labelPadding":20,"title":"Θc.m.(deg)","titlePadding":6}},
"y":{"field":"y","type":"quantitative","scale":{"type":"log","domain":[0.00485,296]},"axis":{"orient":"left","values":[20,30,40,50,60,70,80,90,100,200],"labelExpr":"datum.value==1?'1':datum.value==10?'10':datum.value==100?'100':''","tickSize":{"condition":{"test":"indexof([0.1,1,10,100,1000,10000,100000,1000000],datum.value)>=0","value":-13},"value":-8},"labelPadding":17,"title":null}}},
"layer":[
{"data":{"name":"c1_lines"},"mark":{"type":"line","interpolate":"monotone","color":"black","strokeWidth":2.2},"encoding":{"detail":{"field":"c"},"strokeDash":{"field":"s","type":"nominal","scale":{"domain":["solid","dash","dashdot"],"range":[[1,0],[13,6],[12,4,3,4]]},"legend":null}}},
{"data":{"name":"c1_pts"},"mark":{"type":"rule","color":"black","strokeWidth":1.6},"encoding":{"y":{"field":"lo","type":"quantitative","scale":{"type":"log","domain":[0.00485,296]},"title":null},"y2":{"field":"hi"}}},
{"data":{"name":"c1_pts"},"mark":{"type":"point","shape":"M0,-1.4L0.8,0L0,1.4L-0.8,0Z","filled":true,"size":40,"color":"black","opacity":1}}
]},
{"encoding":{
"x":{"field":"x","type":"quantitative","scale":{"domain":[0,73.7]},"axis":null},
"y":{"field":"y","type":"quantitative","scale":{"type":"log","domain":[0.05012,3060]},"axis":{"orient":"left","values":[20,30,40,50,60,70,80,90,100],"labelExpr":"datum.value==1?'1':datum.value==10?'10':datum.value==100?'100':''","tickSize":{"condition":{"test":"indexof([0.1,1,10,100,1000,10000,100000,1000000],datum.value)>=0","value":-13},"value":-8},"labelPadding":17,"title":null}}},
"layer":[
{"data":{"name":"c2_lines"},"mark":{"type":"line","interpolate":"monotone","color":"black","strokeWidth":2.2},"encoding":{"detail":{"field":"c"}}},
{"data":{"name":"c2_pts"},"mark":{"type":"rule","color":"black","strokeWidth":1.6},"encoding":{"y":{"field":"lo","type":"quantitative","scale":{"type":"log","domain":[0.05012,3060]},"title":null},"y2":{"field":"hi"}}},
{"data":{"name":"c2_pts"},"mark":{"type":"point","shape":"M0,-1.4L0.8,0L0,1.4L-0.8,0Z","filled":true,"size":40,"color":"black","opacity":1}}
]},
{"encoding":{
"x":{"field":"x","type":"quantitative","scale":{"domain":[0,73.7]},"axis":null},
"y":{"field":"y","type":"quantitative","scale":{"type":"log","domain":[0.5012,30600]},"axis":{"orient":"left","values":[0.6,0.7,0.8,0.9,1,2,3,4,5,6,7,8,9,10,20,30,40,50,60,70,80,90,100],"labelExpr":"datum.value==1?'1':datum.value==10?'10':datum.value==100?'100':''","tickSize":{"condition":{"test":"indexof([0.1,1,10,100,1000,10000,100000,1000000],datum.value)>=0","value":-13},"value":-8},"labelPadding":17,"title":null}}},
"layer":[
{"data":{"name":"c3_lines"},"mark":{"type":"line","interpolate":"monotone","color":"black","strokeWidth":2.2},"encoding":{"detail":{"field":"c"}}},
{"data":{"name":"c3_pts"},"mark":{"type":"rule","color":"black","strokeWidth":1.6},"encoding":{"y":{"field":"lo","type":"quantitative","scale":{"type":"log","domain":[0.5012,30600]},"title":null},"y2":{"field":"hi"}}},
{"data":{"name":"c3_pts"},"mark":{"type":"point","shape":"M0,-1.4L0.8,0L0,1.4L-0.8,0Z","filled":true,"size":40,"color":"black","opacity":1}}
]},
{"encoding":{
"x":{"field":"x","type":"quantitative","scale":{"domain":[0,73.7]},"axis":{"orient":"top","values":[10,20,30,40,50,60,70],"labels":false,"tickSize":-10,"title":null}},
"y":{"field":"y","type":"quantitative","scale":{"type":"log","domain":[0.5012,30600]},"axis":{"orient":"right","values":[0.6,0.7,0.8,0.9,1,2,3,4,5,6,7,8,9,10,20,30,40,50,60,70,80,90,100,200,300,400,500,600,700,800,900,1000,2000,3000,4000,5000,6000,7000,8000,9000,10000,20000,30000],"labels":false,"tickSize":{"condition":{"test":"indexof([0.1,1,10,100,1000,10000,100000,1000000],datum.value)>=0","value":-13},"value":-8},"title":null}}},
"layer":[
{"data":{"name":"c_breaks"},"mark":{"type":"text","text":"//","fontSize":19}},
{"data":{"name":"c_simple"},"mark":{"type":"text","fontSize":22},"encoding":{"text":{"field":"t"}}},
{"data":{"name":"c_title"},"mark":{"type":"text","fontSize":18,"align":"left","dy":-11},"encoding":{"text":{"field":"s1"}}},
{"data":{"name":"c_title"},"mark":{"type":"text","fontSize":25,"align":"left","dx":40},"encoding":{"text":{"field":"m1"}}},
{"data":{"name":"c_title"},"mark":{"type":"text","fontSize":18,"align":"left","dx":127,"dy":-11},"encoding":{"text":{"field":"s2"}}},
{"data":{"name":"c_title"},"mark":{"type":"text","fontSize":25,"align":"left","dx":139},"encoding":{"text":{"field":"m2"}}},
{"data":{"name":"c_lab"},"mark":{"type":"text","fontSize":22,"align":"right"},"encoding":{"text":{"field":"pre"}}},
{"data":{"name":"c_lab"},"mark":{"type":"text","fontSize":15,"align":"center","dx":7,"dy":-10},"encoding":{"text":{"field":"sup"}}},
{"data":{"name":"c_lab"},"mark":{"type":"text","fontSize":15,"align":"center","dx":7,"dy":8},"encoding":{"text":{"field":"sub"}}},
{"data":{"name":"c_lab"},"mark":{"type":"text","fontSize":22,"align":"left","dx":13},"encoding":{"text":{"field":"post"}}}
]}
]
}
]}
],
"config":{
"view":{"stroke":"black","strokeWidth":1.6},
"axis":{"grid":false,"domain":false,"labelFont":"DejaVu Sans","titleFont":"DejaVu Sans","labelFontSize":21,"titleFontSize":22,"titleFontWeight":"normal","labelColor":"black","titleColor":"black","tickColor":"black","tickWidth":1.5,"labelFlush":false,"labelOverlap":false},
"text":{"font":"DejaVu Sans","fontSize":21,"color":"black","align":"center","baseline":"middle"},
"title":{"font":"DejaVu Sans"}
}
}
